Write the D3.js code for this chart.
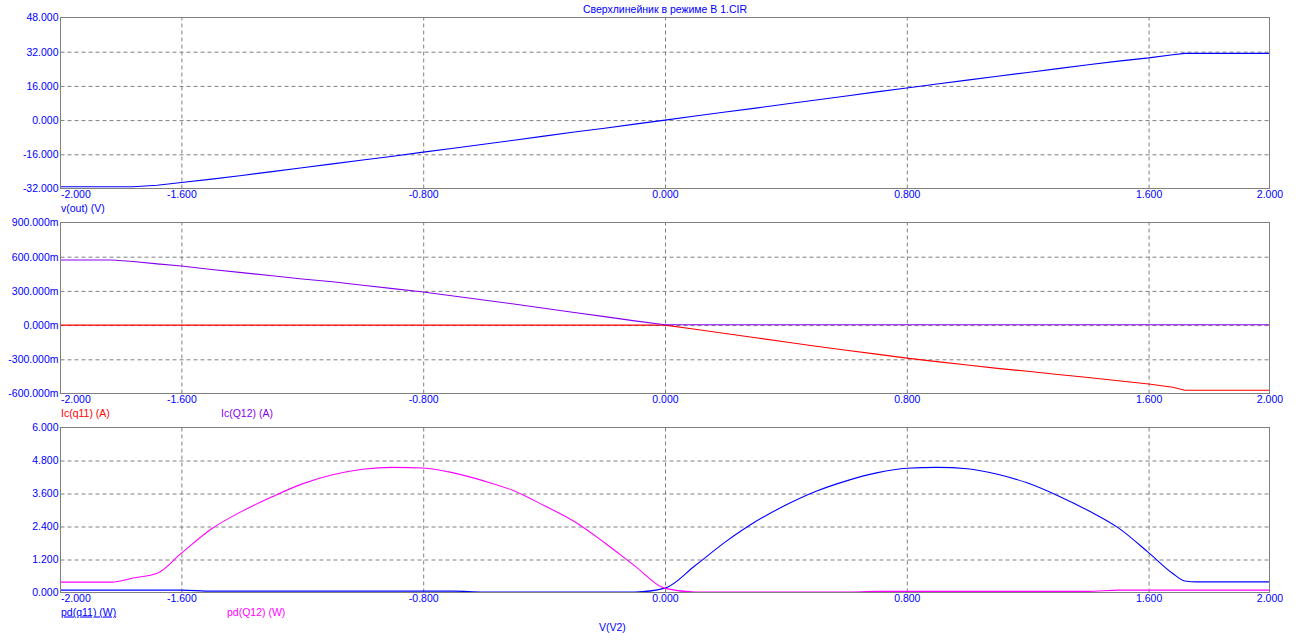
<!DOCTYPE html>
<html>
<head>
<meta charset="utf-8">
<script src="https://cdn.jsdelivr.net/npm/d3@7"></script>
<style>
  html, body { margin: 0; padding: 0; background: #ffffff; }
  svg { display: block; }
  text { font-family: "Liberation Sans", Arial, sans-serif; font-size: 10.5px; }
</style>
</head>
<body>
<svg id="chart" width="1296" height="644"></svg>
<script>
// ---------------- DATA ----------------
const title = "Сверхлинейник в режиме В 1.CIR";
const xAxisTitle = "V(V2)";

const xs = [-2.0, -1.83, -1.76, -1.68, -1.6, -1.5, -1.4, -1.3, -1.2, -1.1, -1.0, -0.9, -0.8, -0.7, -0.6, -0.5, -0.4, -0.3, -0.2, -0.1,
            0.0, 0.1, 0.2, 0.3, 0.4, 0.5, 0.6, 0.7, 0.8, 0.9, 1.0, 1.1, 1.2, 1.3, 1.4, 1.5, 1.6, 1.68, 1.72, 1.76, 1.83, 2.0];

// panel 1: v(out) (V)
const vOut = [-31.2, -31.2, -31.2, -30.5, -29.2, -27.6, -25.9, -24.1, -22.3, -20.5, -18.7, -16.9, -15.0, -13.2, -11.3, -9.4, -7.5, -5.6, -3.8, -1.9,
              0.0, 1.9, 3.8, 5.6, 7.5, 9.4, 11.3, 13.2, 15.0, 16.9, 18.7, 20.5, 22.3, 24.1, 25.9, 27.6, 29.1, 30.6, 31.2, 31.2, 31.2, 31.2];

// panel 2: collector currents (A)
const icQ11 = [0, 0, 0, 0, 0, 0, 0, 0, 0, 0, 0, 0, 0, 0, 0, 0, 0, 0, 0, 0,
               0.0, -0.037, -0.074, -0.111, -0.148, -0.185, -0.22, -0.255, -0.29, -0.32, -0.35, -0.38, -0.405, -0.433, -0.46, -0.488, -0.516, -0.545, -0.571, -0.571, -0.571, -0.571];
const icQ12 = [0.571, 0.571, 0.558, 0.537, 0.518, 0.488, 0.46, 0.433, 0.405, 0.38, 0.35, 0.32, 0.29, 0.255, 0.22, 0.185, 0.148, 0.111, 0.074, 0.037,
               0.003, 0.003, 0.003, 0.003, 0.003, 0.003, 0.003, 0.003, 0.003, 0.003, 0.003, 0.003, 0.003, 0.003, 0.003, 0.003, 0.003, 0.003, 0.003, 0.003, 0.003, 0.003];

// panel 3: dissipated power (W)
const pdQ11 = [0.087, 0.087, 0.087, 0.087, 0.087, 0.05, 0.05, 0.05, 0.05, 0.05, 0.05, 0.05, 0.05, 0.05, 0.02, 0.02, 0.02, 0.02, 0.02, 0.02,
               0.16, 0.98, 1.84, 2.58, 3.18, 3.68, 4.06, 4.35, 4.52, 4.55, 4.5, 4.3, 3.98, 3.52, 2.98, 2.35, 1.45, 0.69, 0.42, 0.388, 0.388, 0.388];
const pdQ12 = [0.377, 0.377, 0.526, 0.70, 1.43, 2.32, 2.95, 3.48, 3.95, 4.28, 4.48, 4.55, 4.53, 4.35, 4.06, 3.7, 3.16, 2.58, 1.81, 0.97,
               0.15, 0.02, 0.02, 0.02, 0.02, 0.02, 0.02, 0.04, 0.04, 0.04, 0.04, 0.04, 0.04, 0.04, 0.04, 0.087, 0.087, 0.087, 0.087, 0.087, 0.087, 0.087];

// ticks
const xTicks = [-2.0, -1.6, -0.8, 0.0, 0.8, 1.6, 2.0];
const xTickLabels = ["-2.000", "-1.600", "-0.800", "0.000", "0.800", "1.600", "2.000"];
const y1Ticks = [-32, -16, 0, 16, 32, 48];
const y1TickLabels = ["-32.000", "-16.000", "0.000", "16.000", "32.000", "48.000"];
const y2Ticks = [-0.6, -0.3, 0, 0.3, 0.6, 0.9];
const y2TickLabels = ["-600.000m", "-300.000m", "0.000m", "300.000m", "600.000m", "900.000m"];
const y3Ticks = [0, 1.2, 2.4, 3.6, 4.8, 6.0];
const y3TickLabels = ["0.000", "1.200", "2.400", "3.600", "4.800", "6.000"];

// ---------------- DRAW ----------------
const svg = d3.select("#chart");
const L = 60.5, R = 1269.5;
const x = d3.scaleLinear().domain([-2, 2]).range([L, R]);
const gridColor = "#808080";
const textBlue = "#0000ff";

const panels = [
  { top: 17.5, bottom: 188.5, ticks: y1Ticks, labels: y1TickLabels,
    series: [{ v: vOut, color: "#0000ff", smooth: false }],
    names: [{ t: "v(out) (V)", color: "#0000ff", x: 61 }] },
  { top: 222.5, bottom: 393.5, ticks: y2Ticks, labels: y2TickLabels,
    series: [{ v: icQ11, color: "#ff0000", smooth: false }, { v: icQ12, color: "#8800ee", smooth: false }],
    names: [{ t: "Ic(q11) (A)", color: "#ff0000", x: 61 }, { t: "Ic(Q12) (A)", color: "#8800ee", x: 221 }] },
  { top: 427.5, bottom: 592.5, ticks: y3Ticks, labels: y3TickLabels,
    series: [{ v: pdQ11, color: "#0000ff", smooth: true }, { v: pdQ12, color: "#ff00ff", smooth: true }],
    names: [{ t: "pd(q11) (W)", color: "#0000ff", x: 61, u: true }, { t: "pd(Q12) (W)", color: "#ff00ff", x: 227 }] }
];

svg.append("text").attr("x", 665).attr("y", 13).attr("text-anchor", "middle")
  .attr("fill", textBlue).text(title);

panels.forEach(p => {
  const ext = d3.extent(p.ticks);
  const y = d3.scaleLinear().domain(ext).range([p.bottom, p.top]);
  const g = svg.append("g");

  // horizontal grid
  const yGrid = g.append("g").attr("transform", `translate(${L},0)`)
    .call(d3.axisLeft(y).tickValues(p.ticks.slice(1, -1)).tickSize(-(R - L)).tickFormat(""));
  yGrid.select(".domain").remove();
  yGrid.selectAll("line").attr("stroke", gridColor).attr("stroke-dasharray", "4,3");

  // vertical grid
  const xGrid = g.append("g").attr("transform", `translate(0,${p.bottom})`)
    .call(d3.axisBottom(x).tickValues(xTicks.slice(1, -1)).tickSize(-(p.bottom - p.top)).tickFormat(""));
  xGrid.select(".domain").remove();
  xGrid.selectAll("line").attr("stroke", gridColor).attr("stroke-dasharray", "4,3");

  // series
  p.series.forEach(s => {
    const line = d3.line().x((d, i) => x(xs[i])).y(d => y(d))
      .curve(s.smooth ? d3.curveMonotoneX : d3.curveLinear);
    g.append("path").datum(s.v).attr("d", line)
      .attr("fill", "none").attr("stroke", s.color).attr("stroke-width", 1.1);
  });

  // frame
  g.append("rect").attr("x", L).attr("y", p.top).attr("width", R - L).attr("height", p.bottom - p.top)
    .attr("fill", "none").attr("stroke", gridColor).attr("stroke-width", 1);

  // y tick labels
  const yAx = g.append("g").attr("transform", `translate(${L - 2},0)`)
    .call(d3.axisLeft(y).tickValues(p.ticks).tickSize(0).tickPadding(0)
      .tickFormat((d, i) => p.labels[i]));
  yAx.select(".domain").remove();
  yAx.selectAll("text").attr("fill", textBlue).style("font-size", "10.5px")
    .style("font-family", "\"Liberation Sans\", Arial, sans-serif");

  // x tick labels
  const xAx = g.append("g").attr("transform", `translate(0,${p.bottom})`)
    .call(d3.axisBottom(x).tickValues(xTicks).tickSize(0).tickPadding(2)
      .tickFormat((d, i) => xTickLabels[i]));
  xAx.select(".domain").remove();
  xAx.selectAll("text").attr("fill", textBlue).style("font-size", "10.5px")
    .style("font-family", "\"Liberation Sans\", Arial, sans-serif")
    .attr("text-anchor", (d, i) => i === 0 ? "start" : "middle");

  // series names
  p.names.forEach(n => {
    svg.append("text").attr("x", n.x).attr("y", p.bottom + 23).attr("fill", n.color)
      .attr("text-decoration", n.u ? "underline" : null).text(n.t);
  });
});

svg.append("text").attr("x", 599).attr("y", 631).attr("fill", textBlue).text(xAxisTitle);
</script>
</body>
</html>
